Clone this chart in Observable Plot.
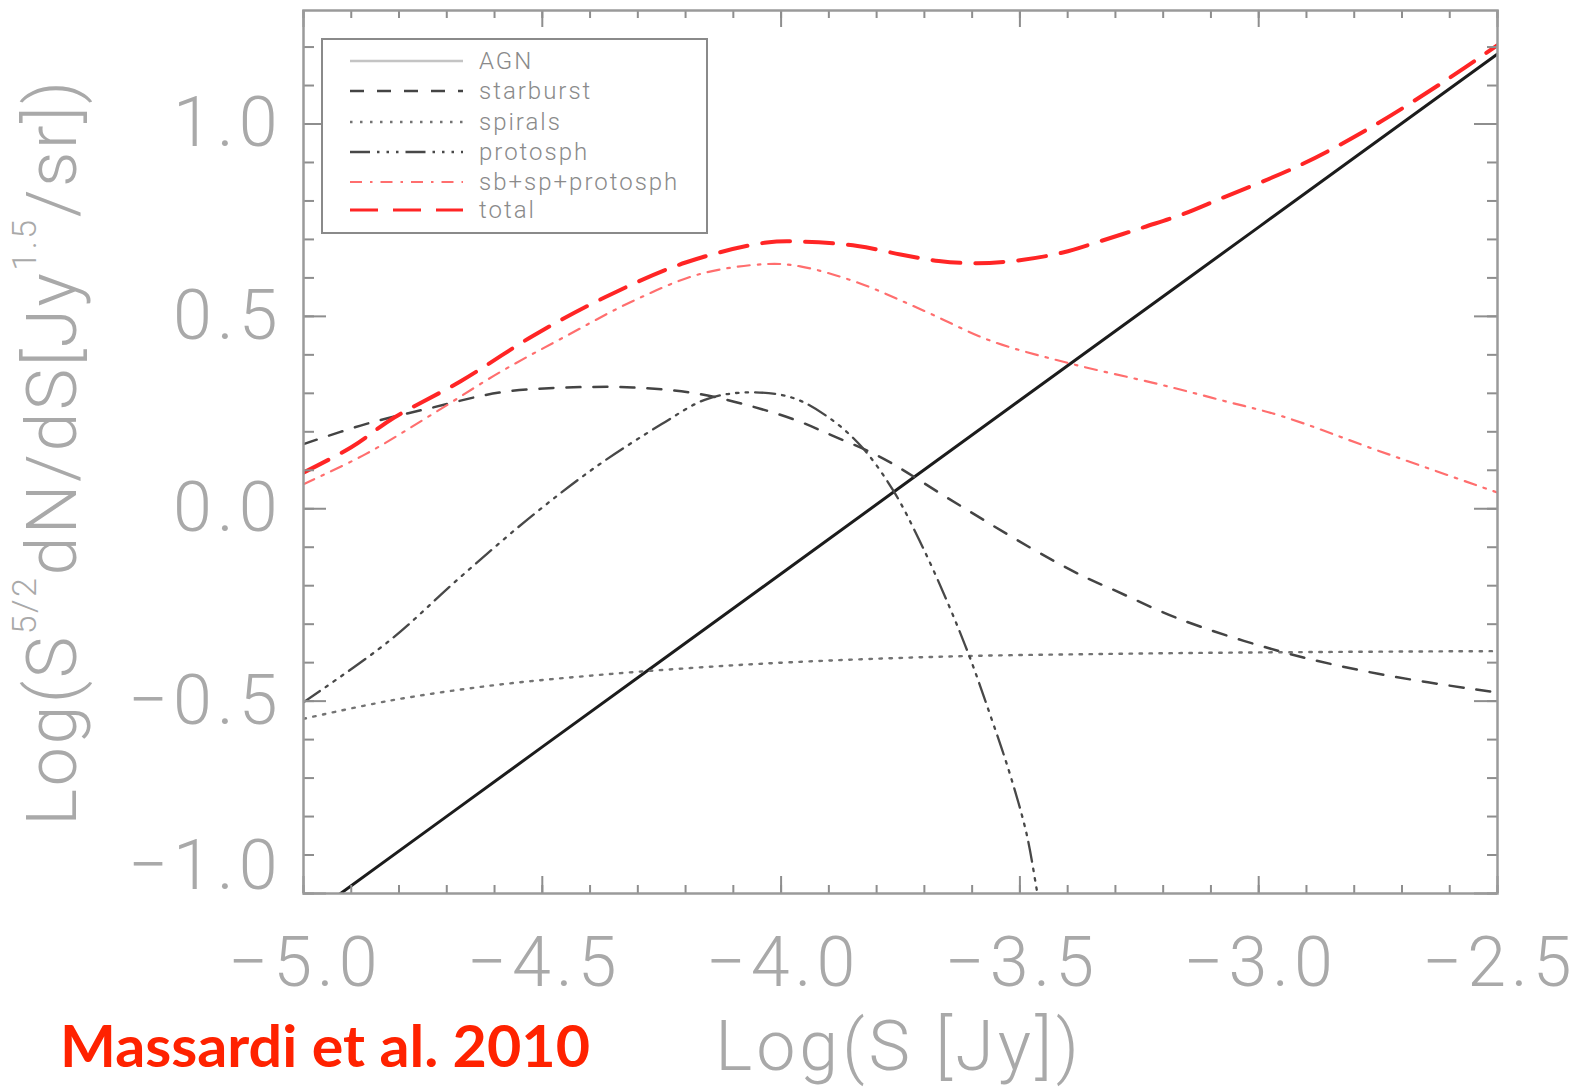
<!DOCTYPE html>
<html><head><meta charset="utf-8">
<script src="https://cdn.jsdelivr.net/npm/d3@7"></script>
<script src="https://cdn.jsdelivr.net/npm/@observablehq/plot@0.6"></script>
<style>
html,body{margin:0;padding:0;background:#fff;overflow:hidden;}
#chart{position:relative;width:1581px;height:1088px;}
</style></head><body><div id="chart"></div>
<script>
// ---- data ----
const xMajorTicks = [-5.0, -4.5, -4.0, -3.5, -3.0, -2.5];
const xTickLabels = ["−5.0", "−4.5", "−4.0", "−3.5", "−3.0", "−2.5"];
const yMajorTicks = [-1.0, -0.5, 0.0, 0.5, 1.0];
const yTickLabels = ["−1.0", "−0.5", "0.0", "0.5", "1.0"];
const seriesNames = ["AGN", "starburst", "spirals", "protosph", "sb+sp+protosph", "total"];

const agn = [[-5.0,-1.07],[-4.5,-0.619],[-4.0,-0.169],[-3.5,0.282],[-3.0,0.732],[-2.5,1.182]];
const starburst = [[-5.0,0.168],[-4.87,0.220],[-4.73,0.263],[-4.59,0.302],[-4.45,0.315],[-4.31,0.315],[-4.17,0.298],[-4.03,0.255],[-3.96,0.226],[-3.90,0.194],[-3.79,0.133],[-3.65,0.027],[-3.48,-0.100],[-3.37,-0.174],[-3.30,-0.213],[-3.165,-0.287],[-2.96,-0.369],[-2.75,-0.429],[-2.5,-0.478]];
const spirals = [[-5.0,-0.546],[-4.82,-0.499],[-4.61,-0.460],[-4.40,-0.434],[-4.19,-0.414],[-3.98,-0.399],[-3.65,-0.384],[-3.30,-0.377],[-2.96,-0.373],[-2.5,-0.370]];
const protosph = [[-5.0,-0.503],[-4.82,-0.343],[-4.68,-0.187],[-4.53,-0.027],[-4.39,0.107],[-4.25,0.220],[-4.16,0.283],[-4.08,0.302],[-3.98,0.290],[-3.90,0.237],[-3.83,0.159],[-3.765,0.047],[-3.71,-0.083],[-3.653,-0.239],[-3.605,-0.386],[-3.563,-0.533],[-3.521,-0.689],[-3.486,-0.845],[-3.465,-0.988],[-3.455,-1.06]];
const sbSpProtosph = [[-5.0,0.064],[-4.87,0.142],[-4.73,0.246],[-4.59,0.354],[-4.45,0.449],[-4.31,0.540],[-4.17,0.610],[-4.03,0.636],[-3.96,0.630],[-3.84,0.588],[-3.70,0.514],[-3.56,0.436],[-3.39,0.376],[-3.21,0.324],[-3.075,0.281],[-2.95,0.240],[-2.75,0.151],[-2.5,0.042]];
const total = [[-5.0,0.094],[-4.9,0.160],[-4.81,0.237],[-4.67,0.332],[-4.52,0.449],[-4.37,0.549],[-4.2,0.640],[-4.03,0.692],[-3.95,0.694],[-3.84,0.683],[-3.75,0.661],[-3.67,0.644],[-3.59,0.638],[-3.5,0.646],[-3.41,0.666],[-3.33,0.696],[-3.24,0.732],[-3.16,0.765],[-3.08,0.806],[-2.91,0.895],[-2.76,0.995],[-2.61,1.112],[-2.5,1.205]];

const seriesData = {"AGN": agn, "starburst": starburst, "spirals": spirals, "protosph": protosph, "sb+sp+protosph": sbSpProtosph, "total": total};

// ---- styles ----
const styles = {
  "AGN": {stroke: "#1c1c1c", width: 3, dash: null, legendStroke: "#c4c4c4", legendWidth: 2.5},
  "starburst": {stroke: "#444444", width: 2.5, dash: "14,13"},
  "spirals": {stroke: "#737373", width: 2.4, dash: "2.5,7.5"},
  "protosph": {stroke: "#484848", width: 2.3, dash: "20,7,2.5,7,2.5,7,2.5,7"},
  "sb+sp+protosph": {stroke: "#ff6e6e", width: 2.2, dash: "12,8,2.5,8"},
  "total": {stroke: "#ff2525", width: 4, dash: "28,15"}
};

const W = 1581, H = 1088, mL = 303, mR = 84, mT = 10, mB = 195;
const pw = W - mL - mR, ph = H - mT - mB;
const axisGrey = "#8e8e8e", labelGrey = "#a9a9a9";
const xMinor = d3.range(-5.0, -2.49, 0.1);
const yMinor = d3.range(-1.0, 1.25, 0.1);

const lineMarks = seriesNames.map(name => {
  const s = styles[name];
  return Plot.line(seriesData[name].map(([x, y]) => ({x, y})), {
    x: "x", y: "y", stroke: s.stroke, strokeWidth: s.width,
    strokeDasharray: s.dash || undefined, curve: "catmull-rom", clip: true
  });
});

const tickStyle = {stroke: axisGrey, strokeWidth: 2};
const svg = Plot.plot({
  width: W, height: H,
  marginLeft: mL, marginRight: mR, marginTop: mT, marginBottom: mB,
  style: {fontFamily: "Roboto", background: "#fff"},
  x: {domain: [-5, -2.5], axis: null},
  y: {domain: [-1, 1.295], axis: null},
  marks: [
    ...lineMarks,
    Plot.ruleX(xMinor, {...tickStyle, insetTop: ph - 8}),
    Plot.ruleX(xMajorTicks, {...tickStyle, insetTop: ph - 17}),
    Plot.ruleX(xMinor, {...tickStyle, insetBottom: ph - 8}),
    Plot.ruleX(xMajorTicks, {...tickStyle, insetBottom: ph - 17}),
    Plot.ruleY(yMinor, {...tickStyle, insetRight: pw - 11}),
    Plot.ruleY(yMajorTicks, {...tickStyle, insetRight: pw - 23}),
    Plot.ruleY(yMinor, {...tickStyle, insetLeft: pw - 10}),
    Plot.ruleY(yMajorTicks, {...tickStyle, insetLeft: pw - 23}),
    Plot.frame({stroke: "#9a9a9a", strokeWidth: 2.5}),
    Plot.text(xMajorTicks, {x: d => d, text: (d, i) => xTickLabels[i], frameAnchor: "bottom", dy: 70, dx: 2,
      fontSize: 70, fontWeight: 300, fill: labelGrey, lineAnchor: "middle", textAnchor: "middle"}),
    Plot.text(yMajorTicks.slice(1), {y: d => d, text: (d, i) => yTickLabels[i + 1], frameAnchor: "left", dx: -21,
      fontSize: 70, fontWeight: 300, fill: labelGrey, lineAnchor: "middle", textAnchor: "end"}),
    Plot.text(yMajorTicks.slice(0, 1), {y: d => d, text: (d, i) => yTickLabels[i], frameAnchor: "left", dx: -21, dy: -27,
      fontSize: 70, fontWeight: 300, fill: labelGrey, lineAnchor: "middle", textAnchor: "end"})
  ]
});
document.getElementById("chart").appendChild(svg);

const root = d3.select(svg);
// wider letter spacing for the tick labels, like the reference's stroke font
root.selectAll("g[aria-label=text] text").attr("letter-spacing", 5);

// y-axis title with superscripts
const yt = root.append("text")
  .attr("transform", "translate(52,452) rotate(-90)")
  .attr("text-anchor", "middle").attr("dominant-baseline", "central")
  .attr("font-family", "Roboto").attr("font-weight", 300)
  .attr("letter-spacing", 2.5)
  .attr("font-size", 70).attr("fill", labelGrey);
yt.append("tspan").text("Log(S");
yt.append("tspan").attr("font-size", 34).attr("dy", -28).text("5/2");
yt.append("tspan").attr("dy", 28).text("dN/dS[Jy");
yt.append("tspan").attr("font-size", 34).attr("dy", -28).text("1.5");
yt.append("tspan").attr("dy", 28).text("/sr])");

// x-axis title
root.append("text")
  .attr("x", 899).attr("y", 1046)
  .attr("text-anchor", "middle").attr("dominant-baseline", "central")
  .attr("font-family", "Roboto").attr("font-weight", 300)
  .attr("letter-spacing", 4)
  .attr("font-size", 70).attr("fill", labelGrey)
  .text("Log(S [Jy])");

// red caption
root.append("text")
  .attr("x", 60).attr("y", 1067)
  .attr("text-anchor", "start")
  .attr("font-family", "Lato").attr("font-weight", 700)
  .attr("font-size", 58).attr("fill", "#ff2200")
  .attr("textLength", 530).attr("lengthAdjust", "spacingAndGlyphs")
  .text("Massardi et al. 2010");

// legend
const lg = root.append("g");
lg.append("rect").attr("x", 322).attr("y", 39).attr("width", 385).attr("height", 194)
  .attr("fill", "#fff").attr("stroke", "#8a8a8a").attr("stroke-width", 2);
const rowY = [61, 91, 122, 152, 182, 210];
seriesNames.forEach((name, i) => {
  const s = styles[name];
  lg.append("line").attr("x1", 350).attr("x2", 463).attr("y1", rowY[i]).attr("y2", rowY[i])
    .attr("stroke", s.legendStroke || s.stroke)
    .attr("stroke-width", s.legendWidth || Math.min(s.width, 3))
    .attr("stroke-dasharray", s.dash);
  lg.append("text").attr("x", 479).attr("y", rowY[i])
    .attr("text-anchor", "start")
    .attr("dominant-baseline", "central")
    .attr("font-family", "Roboto").attr("font-weight", 300)
    .attr("letter-spacing", 2)
    .attr("font-size", 24).attr("fill", "#8a8a8a")
    .text(name);
});
</script>
</body></html>
